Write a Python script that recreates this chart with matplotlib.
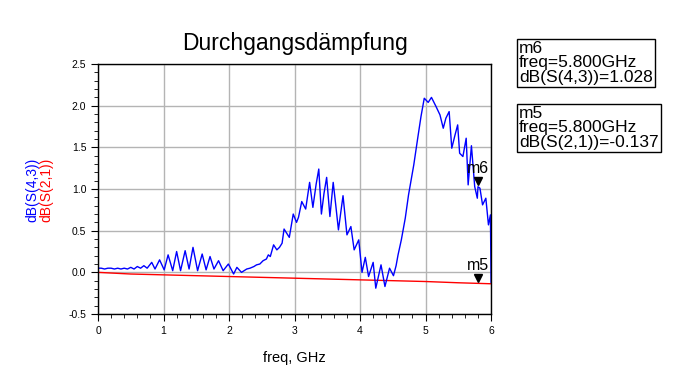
import matplotlib
matplotlib.use('Agg')
import matplotlib.pyplot as plt
import matplotlib.transforms as mtransforms
from matplotlib.ticker import MultipleLocator, FormatStrFormatter

plt.rcParams['font.family'] = ['Liberation Sans', 'DejaVu Sans']

# dB(S(4,3))
freq_43 = [0.0, 0.05, 0.1, 0.15, 0.2, 0.25, 0.3, 0.35, 0.4, 0.45, 0.5, 0.55, 0.6, 0.65, 0.7, 0.75,
           0.82, 0.87, 0.94, 1.01, 1.07, 1.14, 1.20, 1.26, 1.33, 1.39, 1.45, 1.52, 1.59, 1.65, 1.71,
           1.77, 1.84, 1.91, 1.99, 2.07, 2.12, 2.19, 2.27, 2.32, 2.38, 2.42, 2.47, 2.52, 2.57, 2.60,
           2.63, 2.68, 2.73, 2.77, 2.81, 2.84, 2.88, 2.92, 2.98, 3.03, 3.06, 3.11, 3.17, 3.23, 3.28,
           3.33, 3.37, 3.41, 3.45, 3.49, 3.54, 3.59, 3.63, 3.67, 3.74, 3.80, 3.86, 3.91, 3.98, 4.03,
           4.08, 4.13, 4.20, 4.24, 4.32, 4.38, 4.45, 4.51, 4.55, 4.58, 4.63, 4.69, 4.74, 4.82, 4.88,
           4.93, 4.98, 5.04, 5.09, 5.16, 5.22, 5.27, 5.31, 5.36, 5.40, 5.45, 5.49, 5.52, 5.57, 5.62,
           5.65, 5.70, 5.75, 5.79, 5.80, 5.83, 5.87, 5.92, 5.96, 5.99, 6.0]
db_43 = [0.05, 0.05, 0.04, 0.05, 0.05, 0.04, 0.05, 0.04, 0.05, 0.04, 0.06, 0.04, 0.07, 0.05, 0.08, 0.05,
         0.12, 0.04, 0.15, 0.03, 0.21, 0.02, 0.25, 0.02, 0.26, 0.04, 0.30, 0.02, 0.22, 0.03, 0.19,
         0.04, 0.14, 0.02, 0.10, -0.02, 0.06, 0.0, 0.04, 0.05, 0.07, 0.09, 0.10, 0.14, 0.16, 0.21,
         0.19, 0.33, 0.27, 0.30, 0.35, 0.52, 0.47, 0.42, 0.70, 0.60, 0.66, 0.85, 0.76, 1.08, 0.78,
         1.06, 1.24, 0.70, 0.95, 1.14, 0.67, 1.08, 0.80, 0.51, 0.92, 0.45, 0.55, 0.27, 0.39, 0.0,
         0.18, -0.05, 0.12, -0.19, 0.09, -0.17, 0.05, -0.04, 0.08, 0.21, 0.39, 0.65, 0.93, 1.29, 1.61,
         1.87, 2.09, 2.04, 2.10, 1.99, 1.89, 1.73, 1.85, 1.93, 1.49, 1.65, 1.77, 1.43, 1.39, 1.61,
         1.05, 1.52, 1.03, 0.89, 1.028, 1.01, 0.81, 0.89, 0.57, 0.69, -0.12]

# dB(S(2,1))
freq_21 = [0, 0.5, 1, 1.5, 2, 2.5, 3, 3.5, 4, 4.5, 5, 5.5, 6]
db_21 = [0.0, -0.02, -0.03, -0.04, -0.05, -0.06, -0.07, -0.08, -0.09, -0.10, -0.11, -0.125, -0.137]

marker_freq = 5.8
m6_val = 1.028
m5_val = -0.137

fig = plt.figure(figsize=(6.83, 3.86), dpi=100)
ax = fig.add_axes([0.1435, 0.1865, 0.5755, 0.6475])

ax.plot(freq_21, db_21, color='#ff0000', linewidth=1)
ax.plot(freq_43, db_43, color='#0000ff', linewidth=1)

# markers: triangle sits just above the point
up = mtransforms.offset_copy(ax.transData, fig=fig, x=0, y=4, units='points')
for val, name in [(m6_val, 'm6'), (m5_val, 'm5')]:
    ax.plot(marker_freq, val, marker='v', color='black', markersize=6, transform=up, clip_on=False)
    ax.annotate(name, (marker_freq, val), xytext=(0, 8), textcoords='offset points',
                ha='center', va='bottom', fontsize=11.5)

ax.set_xlim(0, 6)
ax.set_ylim(-0.5, 2.5)
ax.xaxis.set_major_locator(MultipleLocator(1))
ax.xaxis.set_minor_locator(MultipleLocator(0.2))
ax.yaxis.set_major_locator(MultipleLocator(0.5))
ax.yaxis.set_minor_locator(MultipleLocator(0.1))
ax.yaxis.set_major_formatter(FormatStrFormatter('%.1f'))
ax.tick_params(which='major', length=5, labelsize=7.5, direction='out')
ax.tick_params(which='minor', length=3, direction='out')
ax.grid(True, which='major', color='#b4b4b4', linewidth=1)
for s in ax.spines.values():
    s.set_linewidth(1)

ax.set_title('Durchgangsdämpfung', fontsize=16.5, pad=10)
ax.set_xlabel('freq, GHz', fontsize=10.5, labelpad=11)

fig.text(0.047, 0.508, 'dB(S(4,3))', rotation=90, color='#0000ff', fontsize=10, ha='center', va='center')
fig.text(0.068, 0.508, 'dB(S(2,1))', rotation=90, color='#ff0000', fontsize=10, ha='center', va='center')

box = dict(boxstyle='square,pad=0.12', facecolor='white', edgecolor='black', linewidth=1)
fig.text(0.760, 1 - 41 / 386, 'm6\nfreq=5.800GHz\ndB(S(4,3))=1.028', fontsize=12.5, linespacing=0.95,
         ha='left', va='top', bbox=box)
fig.text(0.760, 1 - 106 / 386, 'm5\nfreq=5.800GHz\ndB(S(2,1))=-0.137', fontsize=12.5, linespacing=0.95,
         ha='left', va='top', bbox=box)

fig.savefig('out.png', dpi=100)
